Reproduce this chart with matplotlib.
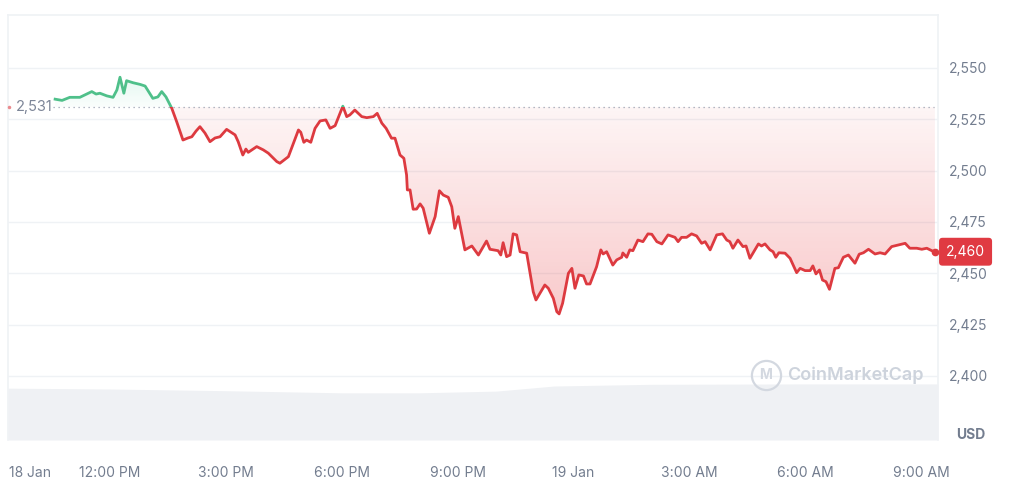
import numpy as np
import matplotlib
matplotlib.use("Agg")
import matplotlib.pyplot as plt
from matplotlib.patches import Rectangle
from matplotlib.path import Path
from matplotlib.transforms import blended_transform_factory

plt.rcParams["font.family"] = ["Inter", "DejaVu Sans"]

# hours since 18 Jan 00:00, price in USD
hours = [
    10.58, 10.76, 10.96, 11.22, 11.53, 11.64, 11.74, 11.92, 12.08, 12.18,
    12.26, 12.36, 12.43, 12.60, 12.78, 12.91, 13.11, 13.24, 13.34, 13.45,
    13.60, 13.73, 13.89, 14.02, 14.12, 14.23, 14.33, 14.46, 14.59, 14.72,
    14.85, 15.02, 15.11, 15.24, 15.32, 15.44, 15.52, 15.58, 15.80, 15.97,
    16.10, 16.32, 16.40, 16.62, 16.75, 16.88, 16.94, 17.02, 17.09, 17.20,
    17.31, 17.44, 17.59, 17.70, 17.83, 18.03, 18.13, 18.21, 18.34, 18.52,
    18.65, 18.82, 18.92, 19.04, 19.15, 19.29, 19.38, 19.51, 19.61, 19.68,
    19.70, 19.77, 19.85, 19.94, 20.03, 20.11, 20.27, 20.42, 20.53, 20.63,
    20.76, 20.85, 20.93, 21.02, 21.19, 21.37, 21.54, 21.75, 21.84, 22.05,
    22.12, 22.18, 22.27, 22.36, 22.44, 22.53, 22.62, 22.79, 22.96, 23.03,
    23.26, 23.35, 23.48, 23.57, 23.63, 23.72, 23.87, 23.96, 24.04, 24.14,
    24.26, 24.34, 24.43, 24.60, 24.71, 24.77, 24.86, 25.02, 25.12, 25.25,
    25.28, 25.38, 25.46, 25.54, 25.67, 25.80, 25.93, 26.03, 26.16, 26.29,
    26.45, 26.63, 26.71, 26.80, 26.93, 27.06, 27.19, 27.32, 27.41, 27.54,
    27.71, 27.86, 27.97, 28.05, 28.13, 28.26, 28.39, 28.47, 28.57, 28.79,
    28.87, 28.96, 29.09, 29.17, 29.24, 29.32, 29.48, 29.61, 29.78, 29.87,
    30.00, 30.13, 30.20, 30.28, 30.37, 30.45, 30.54, 30.63, 30.77, 30.86,
    30.99, 31.12, 31.29, 31.40, 31.51, 31.64, 31.81, 31.94, 32.07, 32.24,
    32.41, 32.59, 32.71, 32.89, 33.02, 33.15, 33.28, 33.36,
]
prices = [
    2534.8, 2534.2, 2535.7, 2535.7, 2538.5, 2537.3, 2537.7, 2536.4, 2535.7, 2539.3,
    2545.5, 2537.7, 2543.8, 2542.8, 2542.0, 2541.2, 2535.2, 2535.9, 2538.5, 2535.9,
    2530.4, 2523.7, 2514.9, 2515.9, 2516.5, 2519.3, 2521.4, 2518.3, 2514.1, 2515.9,
    2516.5, 2520.1, 2519.0, 2517.4, 2514.1, 2507.6, 2510.5, 2508.9, 2511.7, 2510.1,
    2508.5, 2504.4, 2503.6, 2506.8, 2513.3, 2519.8, 2518.7, 2513.8, 2514.9, 2513.8,
    2520.6, 2524.2, 2524.7, 2520.6, 2521.9, 2531.4, 2526.3, 2527.1, 2529.5, 2526.3,
    2525.8, 2526.3, 2527.9, 2523.1, 2520.6, 2515.8, 2515.8, 2507.6, 2506.0, 2497.9,
    2490.6, 2490.6, 2481.2, 2481.3, 2483.8, 2481.7, 2469.5, 2477.6, 2490.2, 2488.1,
    2487.0, 2482.4, 2471.9, 2477.6, 2461.4, 2463.3, 2458.9, 2465.7, 2461.7, 2461.0,
    2458.9, 2464.9, 2458.1, 2458.9, 2469.2, 2468.7, 2460.5, 2459.8, 2441.0, 2437.0,
    2444.3, 2442.7, 2437.8, 2431.3, 2430.2, 2435.4, 2450.0, 2452.4, 2442.7, 2449.2,
    2448.7, 2444.8, 2444.8, 2453.2, 2461.4, 2459.4, 2460.5, 2454.0, 2456.5, 2457.8,
    2459.9, 2457.8, 2461.4, 2461.0, 2466.2, 2465.4, 2469.2, 2469.0, 2465.4, 2464.3,
    2468.7, 2467.5, 2465.4, 2467.5, 2467.5, 2469.2, 2468.2, 2464.6, 2465.4, 2461.4,
    2468.7, 2469.2, 2466.2, 2465.4, 2462.2, 2466.2, 2463.0, 2463.3, 2457.3, 2464.3,
    2463.3, 2464.3, 2461.4, 2460.5, 2457.8, 2460.0, 2459.8, 2457.3, 2450.3, 2452.4,
    2451.3, 2451.3, 2453.6, 2449.7, 2451.6, 2446.7, 2445.9, 2442.2, 2452.4, 2452.7,
    2457.8, 2458.9, 2454.9, 2459.3, 2460.0, 2461.7, 2459.4, 2460.0, 2459.4, 2463.0,
    2463.8, 2464.6, 2462.2, 2462.2, 2461.7, 2462.2, 2461.0, 2460.5,
]
ref_price = 2531
last_label = "2,460"

vol_hours = [9.36, 12.0, 15.0, 18.0, 20.0, 22.0, 23.5, 26.0, 30.0, 33.44]
volumes = [12.2, 12.0, 11.6, 11.1, 11.1, 11.5, 12.7, 13.1, 13.2, 13.2]

tick_hours = [9.93, 12, 15, 18, 21, 24, 27, 30, 33]
tick_labels = ["18 Jan", "12:00 PM", "3:00 PM", "6:00 PM", "9:00 PM",
               "19 Jan", "3:00 AM", "6:00 AM", "9:00 AM"]
price_ticks = [2400, 2425, 2450, 2475, 2500, 2525, 2550]

RED = "#dd3a40"
GREEN = "#4fc08a"
TEXT = "#737d8f"
GRID = "#eff2f5"

h = np.array(hours)
p = np.array(prices)
x0, x1 = 9.36, 33.44
y0, y1 = 2368.8, 2575.8

fig = plt.figure(figsize=(10.24, 4.95), dpi=100)
ax = fig.add_axes([8 / 1024, 1 - 440 / 495, 930 / 1024, 425 / 495])
axv = ax.twinx()
ax.set_zorder(axv.get_zorder() + 1)
ax.patch.set_visible(False)

# volume strip at the bottom
axv.fill_between(vol_hours, volumes, 0, color="#eff1f4", lw=0)
axv.set_ylim(0, 100)
axv.set_xlim(x0, x1)
axv.axis("off")

# grid
for v in price_ticks:
    ax.axhline(v, color=GRID, lw=1, zorder=0)

# gradient fills below / above the reference price
below = ax.fill_between(h, p, ref_price, where=p <= ref_price, interpolate=True,
                        color="none", lw=0)
grad = np.zeros((256, 1, 4))
grad[..., 0], grad[..., 1], grad[..., 2] = 0.91, 0.24, 0.26
grad[:, 0, 3] = np.linspace(0.28, 0.05, 256)
im = ax.imshow(grad, extent=[x0, x1, 2428, ref_price], origin="lower",
               aspect="auto", zorder=1)
im.set_clip_path(Path.make_compound_path(*below.get_paths()), ax.transData)

above = ax.fill_between(h, p, ref_price, where=p >= ref_price, interpolate=True,
                        color="none", lw=0)
ggrad = np.zeros((256, 1, 4))
ggrad[..., 0], ggrad[..., 1], ggrad[..., 2] = 0.09, 0.78, 0.52
ggrad[:, 0, 3] = np.linspace(0.02, 0.12, 256)
im2 = ax.imshow(ggrad, extent=[x0, x1, ref_price, 2546], origin="lower",
                aspect="auto", zorder=1)
im2.set_clip_path(Path.make_compound_path(*above.get_paths()), ax.transData)

# price line, green above reference and red below
red_line, = ax.plot(h, p, color=RED, lw=2.0, zorder=3, solid_joinstyle="round")
red_line.set_clip_path(Rectangle((x0, y0), x1 - x0, ref_price - y0,
                                 transform=ax.transData))
green_line, = ax.plot(h, p, color=GREEN, lw=2.0, zorder=3, solid_joinstyle="round")
green_line.set_clip_path(Rectangle((x0, ref_price), x1 - x0, y1 - ref_price,
                                   transform=ax.transData))
ax.plot(h[-1], p[-1], "o", color=RED, ms=4.5, zorder=4, clip_on=False)

# reference line and label
ax.plot([h[0] - 0.05, x1 - 0.1], [ref_price, ref_price], ls=(0, (1, 3)),
        color="#9aa3b2", lw=0.9, zorder=2)
ax.text(x0 + 0.2, ref_price, "2,531", color="#7d8698", fontsize=10.5,
        va="center", ha="left", zorder=5)
ax.plot(x0 + 0.02, ref_price, marker=".", color="#ea8a8e", ms=3, zorder=5,
        clip_on=False)

# last price tag
tr = blended_transform_factory(ax.transAxes, ax.transData)
ax.text(1.0 + 8 / 930, p[-1], last_label, transform=tr, color="white",
        fontsize=10, va="center", ha="left", zorder=6,
        bbox=dict(boxstyle="round,pad=0.5,rounding_size=0.25", fc="#e03a42",
                  ec="none"))

# watermark
ax.plot(0.815, 0.153, "o", ms=21, mfc="none", mec="#d3d8e0", mew=1.6,
        transform=ax.transAxes, zorder=2)
ax.text(0.815, 0.152, "M", transform=ax.transAxes, color="#d3d8e0",
        fontsize=10, fontweight="bold", ha="center", va="center", zorder=2)
ax.text(0.838, 0.153, "CoinMarketCap", transform=ax.transAxes, color="#cdd3dc",
        fontsize=13, fontweight="semibold", ha="left", va="center", zorder=2)

ax.set_xlim(x0, x1)
ax.set_ylim(y0, y1)
ax.set_xticks(tick_hours)
ax.set_xticklabels(tick_labels)
ax.set_yticks(price_ticks)
ax.set_yticklabels([f"{v:,}" for v in price_ticks])
ax.yaxis.tick_right()
ax.tick_params(axis="x", length=0, pad=19, labelsize=10, labelcolor=TEXT)
ax.tick_params(axis="y", length=0, pad=8, labelsize=10, labelcolor=TEXT)

for side in ["top", "left", "right"]:
    ax.spines[side].set_color(GRID)
    ax.spines[side].set_linewidth(1.2)
ax.spines["bottom"].set_visible(False)

fig.text(971 / 1024, 1 - 435 / 495, "USD", color=TEXT, fontsize=10,
         fontweight="bold", ha="center", va="center")

fig.savefig("out.png", dpi=100, facecolor="white")
